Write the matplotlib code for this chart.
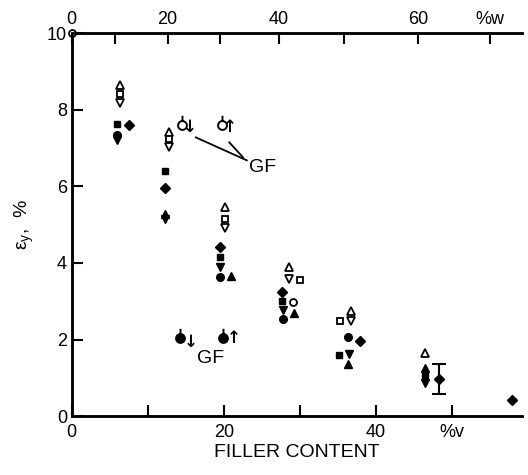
import matplotlib.pyplot as plt
from matplotlib.path import Path

plt.rcParams['font.family'] = ['Liberation Sans', 'DejaVu Sans']

# data: (filler %v, yield strain %)
open_tri_up_x = [6.3, 12.8, 20.1, 28.6, 36.7, 46.4]
open_tri_up_y = [8.65, 7.42, 5.46, 3.89, 2.74, 1.64]
open_sq_x = [6.3, 12.8, 20.1, 30.0, 35.3]
open_sq_y = [8.41, 7.23, 5.14, 3.55, 2.48]
open_tri_dn_x = [6.3, 12.8, 20.1, 28.6, 36.7]
open_tri_dn_y = [8.17, 7.02, 4.91, 3.58, 2.48]
open_circ_x = [29.1]
open_circ_y = [2.98]
fill_sq_x = [5.9, 12.2, 19.5, 27.6, 35.1, 46.4]
fill_sq_y = [7.62, 6.40, 4.15, 3.0, 1.59, 1.07]
fill_dia_x = [7.5, 12.2, 19.5, 27.6, 37.9, 57.8]
fill_dia_y = [7.6, 5.95, 4.41, 3.24, 1.96, 0.42]
fill_circ_x = [5.9, 19.5, 27.8, 36.3]
fill_circ_y = [7.34, 3.63, 2.53, 2.06]
fill_tri_up_x = [12.2, 20.9, 29.2, 36.3, 46.4]
fill_tri_up_y = [5.27, 3.66, 2.69, 1.36, 1.25]
fill_tri_dn_x = [5.9, 12.2, 19.5, 27.8, 36.4, 46.4]
fill_tri_dn_y = [7.2, 5.14, 3.89, 2.77, 1.62, 0.86]
# diamond with error bar
err_x = [48.3]
err_y = [0.97]
err_size = [0.39]

# GF keys
gf_open_x = [14.5, 19.7]
gf_open_y = [7.6, 7.6]
gf_fill_x = [14.2, 19.9]
gf_fill_y = [2.04, 2.04]

v_ticks = [0, 10, 20, 30, 40, 50]
v_labels = ['0', '', '20', '', '40', '%v']
w_tick_pos = [0, 5.7, 12.6, 19.5, 27.2, 35.8, 45.5, 55.0]
w_labels = ['0', '', '20', '', '40', '', '60', '%w']
y_ticks = [0, 2, 4, 6, 8, 10]

fig = plt.figure(figsize=(5.28, 4.75), dpi=100)
ax = fig.add_axes([0.136, 0.124, 0.853, 0.806])

ms = 5
tms = 6
ax.plot(open_tri_up_x, open_tri_up_y, '^', ms=tms, mfc='white', mec='black', mew=1.3, ls='none')
ax.plot(open_sq_x, open_sq_y, 's', ms=ms, mfc='white', mec='black', mew=1.3, ls='none')
ax.plot(open_tri_dn_x, open_tri_dn_y, 'v', ms=tms, mfc='white', mec='black', mew=1.3, ls='none')
ax.plot(open_circ_x, open_circ_y, 'o', ms=ms, mfc='white', mec='black', mew=1.3, ls='none')
ax.plot(fill_sq_x, fill_sq_y, 's', ms=ms, color='black', ls='none')
ax.plot(fill_dia_x, fill_dia_y, 'D', ms=4.6, color='black', ls='none')
ax.plot(fill_circ_x, fill_circ_y, 'o', ms=ms + 0.5, color='black', ls='none')
ax.plot(fill_tri_up_x, fill_tri_up_y, '^', ms=tms, color='black', ls='none')
ax.plot(fill_tri_dn_x, fill_tri_dn_y, 'v', ms=tms, color='black', ls='none')
ax.errorbar(err_x, err_y, yerr=err_size, fmt='D', ms=4.6, color='black', capsize=5, elinewidth=1.5, capthick=1.5)

# circle with a stick on top for the GF keys
circ = Path.unit_circle()
stick = Path([(0, 1), (0, 2.2)], [Path.MOVETO, Path.LINETO])
pin = Path.make_compound_path(circ, stick)
ax.plot(gf_open_x, gf_open_y, marker=pin, ms=14, mfc='white', mec='black', mew=1.4, ls='none')
ax.plot(gf_fill_x, gf_fill_y, marker=pin, ms=14, mfc='black', mec='black', mew=1.4, ls='none')
for x, y, arr in zip(gf_open_x, gf_open_y, ['↓', '↑']):
    ax.text(x + 1.0, y - 0.05, arr, fontsize=12, fontweight='bold', family='DejaVu Sans', ha='center', va='center')
for x, y, arr in zip(gf_fill_x, gf_fill_y, ['↓', '↑']):
    ax.text(x + 1.4, y - 0.1 if arr == '↓' else y, arr, fontsize=12, fontweight='bold', family='DejaVu Sans', ha='center', va='center')

ax.plot([16.3, 23.0], [7.28, 6.68], color='black', lw=1.3)
ax.plot([20.7, 22.5], [7.15, 6.76], color='black', lw=1.3)
ax.text(23.3, 6.5, 'GF', fontsize=14, ha='left', va='center')
ax.text(18.3, 1.51, 'GF', fontsize=14, ha='center', va='center')

# little open circle in the corner
ax.plot([0], [10], 'o', ms=5, mfc='white', mec='black', mew=1.3, clip_on=False, zorder=5)

ax.set_xlim(0, 59.2)
ax.set_ylim(0, 10)
ax.set_xticks(v_ticks)
ax.set_xticklabels(v_labels)
ax.set_yticks(y_ticks)
ax.tick_params(direction='in', length=8, width=1.5, labelsize=13)
ax.tick_params(axis='x', pad=6)
ax.set_xlabel('FILLER CONTENT', fontsize=14, labelpad=2)
ax.set_ylabel('ε$_{\\mathregular{y}}$,  %', fontsize=14, labelpad=8)

ax2 = ax.twiny()
ax2.set_xlim(ax.get_xlim())
ax2.set_xticks(w_tick_pos)
ax2.set_xticklabels(w_labels)
ax2.tick_params(direction='in', length=8, width=1.5, labelsize=13, pad=4)

for a in (ax, ax2):
    a.spines['right'].set_visible(False)
    for s in ('left', 'bottom', 'top'):
        a.spines[s].set_linewidth(1.8)

plt.savefig('out.png')
